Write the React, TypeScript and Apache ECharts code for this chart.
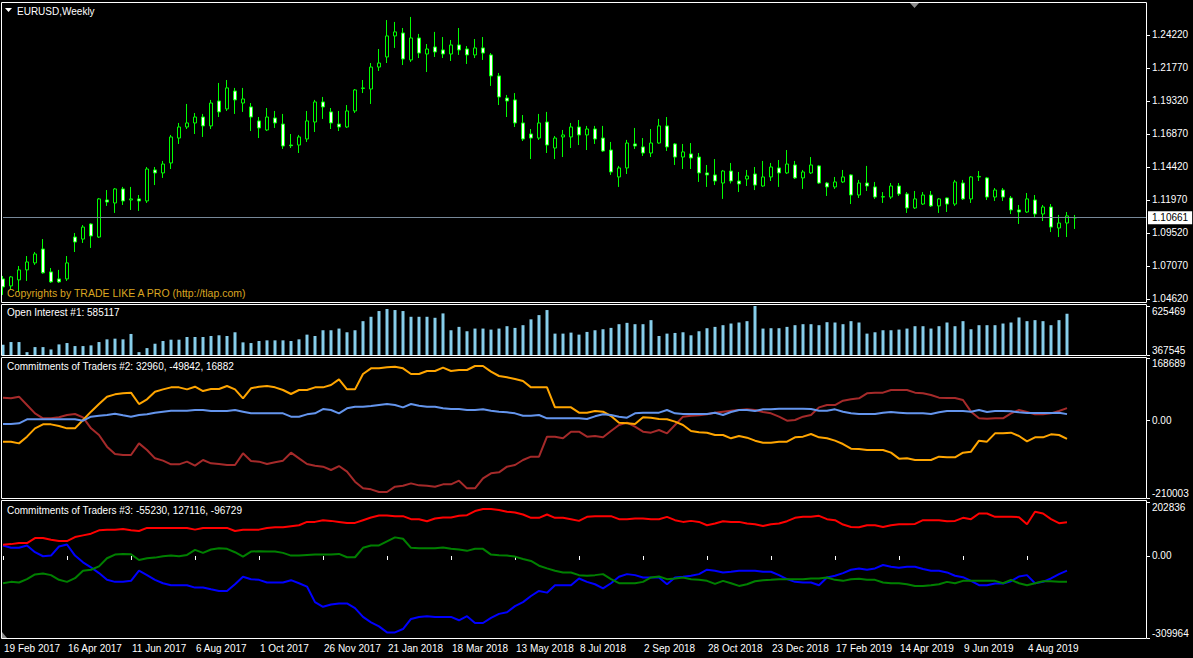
import React, { useEffect, useRef } from "react";
import * as echarts from "echarts";

// ---------- DATA ----------
const OPEN = [1.0611,1.0559,1.0604,1.0678,1.0730,1.0833,1.0663,1.0611,1.0611,1.0922,
 1.0907,1.1019,1.0922,1.1197,1.1175,1.1279,1.1197,1.1205,1.1190,1.1420,
 1.1398,1.1472,1.1657,1.1739,1.1769,1.1813,1.1747,1.1932,1.1873,1.2006,
 1.1917,1.1888,1.1784,1.1717,1.1806,1.1761,1.1605,1.1605,1.1650,1.1776,
 1.1925,1.1851,1.1761,1.1739,1.1858,1.2025,1.2021,1.2184,1.2259,1.2415,
 1.2437,1.2237,1.2400,1.2281,1.2333,1.2311,1.2281,1.2348,1.2318,1.2274,
 1.2326,1.2274,1.2118,1.1954,1.1940,1.1769,1.1687,1.1657,1.1776,1.1583,
 1.1665,1.1665,1.1739,1.1680,1.1724,1.1657,1.1568,1.1368,1.1435,1.1613,
 1.1591,1.1546,1.1620,1.1747,1.1613,1.1516,1.1539,1.1516,1.1398,1.1383,
 1.1323,1.1412,1.1338,1.1353,1.1390,1.1301,1.1368,1.1435,1.1398,1.1457,
 1.1361,1.1398,1.1450,1.1323,1.1294,1.1331,1.1383,1.1234,1.1323,1.1294,
 1.1219,1.1219,1.1301,1.1242,1.1138,1.1167,1.1234,1.1153,1.1212,1.1167,
 1.1323,1.1205,1.1368,1.1361,1.1219,1.1271,1.1212,1.1123,1.1108,1.1197,
 1.1093,1.1145,1.0989,1.1026,1.1064];

const CLOSE = [1.0552,1.0626,1.0678,1.0737,1.0796,1.0656,1.0589,1.0589,1.0730,1.0885,
 1.0996,1.0930,1.1205,1.1182,1.1279,1.1190,1.1205,1.1190,1.1427,1.1398,
 1.1464,1.1665,1.1739,1.1769,1.1813,1.1747,1.1917,1.1851,1.2029,1.1940,
 1.1947,1.1813,1.1732,1.1813,1.1769,1.1598,1.1600,1.1665,1.1784,1.1925,
 1.1888,1.1769,1.1739,1.1858,1.2014,1.2029,1.2184,1.2214,1.2415,1.2445,
 1.2244,1.2400,1.2288,1.2318,1.2296,1.2281,1.2348,1.2311,1.2274,1.2326,
 1.2288,1.2118,1.1962,1.1932,1.1769,1.1650,1.1657,1.1769,1.1605,1.1657,
 1.1680,1.1739,1.1680,1.1724,1.1650,1.1561,1.1405,1.1435,1.1620,1.1598,
 1.1546,1.1620,1.1747,1.1591,1.1516,1.1554,1.1509,1.1398,1.1383,1.1338,
 1.1412,1.1338,1.1316,1.1375,1.1308,1.1368,1.1442,1.1398,1.1464,1.1361,
 1.1405,1.1457,1.1323,1.1294,1.1331,1.1368,1.1234,1.1323,1.1301,1.1219,
 1.1222,1.1301,1.1242,1.1138,1.1205,1.1234,1.1153,1.1205,1.1167,1.1331,
 1.1205,1.1368,1.1372,1.1219,1.1271,1.1219,1.1123,1.1108,1.1205,1.1093,
 1.1145,1.0996,1.1026,1.1079,1.10661];

const LOW = [1.0492,1.0529,1.0514,1.0596,1.0715,1.0650,1.0581,1.0581,1.0596,1.0811,
 1.0878,1.0841,1.0915,1.1153,1.1101,1.1160,1.1123,1.1116,1.1175,1.1308,
 1.1361,1.1427,1.1613,1.1724,1.1687,1.1665,1.1724,1.1813,1.1858,1.1836,
 1.1851,1.1709,1.1657,1.1709,1.1732,1.1576,1.1583,1.1546,1.1628,1.1702,
 1.1799,1.1724,1.1709,1.1732,1.1843,1.1991,1.1910,1.2155,1.2214,1.2326,
 1.2199,1.2222,1.2251,1.2147,1.2259,1.2251,1.2229,1.2274,1.2207,1.2251,
 1.2237,1.2044,1.1902,1.1813,1.1739,1.1635,1.1501,1.1643,1.1546,1.1501,
 1.1516,1.1583,1.1605,1.1568,1.1613,1.1554,1.1383,1.1294,1.1390,1.1576,
 1.1524,1.1516,1.1615,1.1561,1.1457,1.1427,1.1427,1.1331,1.1294,1.1308,
 1.1205,1.1320,1.1256,1.1301,1.1271,1.1295,1.1338,1.1294,1.1390,1.1353,
 1.1279,1.1390,1.1316,1.1227,1.1279,1.1323,1.1167,1.1212,1.1264,1.1205,
 1.1175,1.1205,1.1227,1.1101,1.1130,1.1160,1.1145,1.1101,1.1108,1.1153,
 1.1197,1.1175,1.1338,1.1197,1.1190,1.1190,1.1093,1.1019,1.1101,1.1064,
 1.1041,1.0959,1.0922,1.0922,1.0982];

const HIGH = [1.0633,1.0633,1.0707,1.0781,1.0811,1.0907,1.0692,1.0678,1.0781,1.0952,
 1.1011,1.1025,1.1212,1.1271,1.1286,1.1294,1.1294,1.1234,1.1442,1.1442,
 1.1487,1.1680,1.1769,1.1910,1.1843,1.1836,1.1940,1.2066,1.2088,1.2029,
 1.2029,1.1917,1.1813,1.1880,1.1858,1.1836,1.1687,1.1680,1.1858,1.1940,
 1.1962,1.1880,1.1858,1.1902,1.2021,1.2088,1.2214,1.2318,1.2533,1.2519,
 1.2474,1.2556,1.2430,1.2355,1.2445,1.2407,1.2385,1.2474,1.2340,1.2392,
 1.2407,1.2288,1.2140,1.1977,1.1991,1.1828,1.1724,1.1836,1.1851,1.1672,
 1.1717,1.1769,1.1791,1.1747,1.1747,1.1747,1.1628,1.1450,1.1643,1.1732,
 1.1657,1.1724,1.1799,1.1813,1.1620,1.1613,1.1620,1.1546,1.1457,1.1501,
 1.1420,1.1472,1.1405,1.1420,1.1442,1.1487,1.1472,1.1494,1.1568,1.1487,
 1.1420,1.1516,1.1457,1.1331,1.1368,1.1420,1.1388,1.1346,1.1450,1.1331,
 1.1256,1.1323,1.1323,1.1256,1.1264,1.1256,1.1264,1.1212,1.1215,1.1346,
 1.1346,1.1375,1.1412,1.1368,1.1286,1.1286,1.1227,1.1160,1.1249,1.1234,
 1.1160,1.1167,1.1086,1.1108,1.1086];

const OPEN_INTEREST = [423700,437700,437700,385100,411400,411400,399100,425400,432500,416700,
 416700,420200,437700,451800,455300,451800,479800,385100,406100,428900,
 443000,450000,450000,464000,464000,464000,469300,472800,469300,488600,
 436000,432500,443000,446500,446500,446500,443000,451800,476300,469300,
 499100,499100,507900,488600,499100,546500,569300,599200,609700,604400,
 599200,569300,569300,569300,564100,586900,499100,516700,493900,507900,
 507900,502600,507900,520200,511400,525500,556000,578100,604400,481600,
 481600,486800,476300,490400,499100,504400,511400,530700,537700,530700,
 530700,551800,469300,481600,485100,488600,472800,493900,509700,516700,
 525500,534200,539500,546500,625469,507900,509700,509700,516700,525500,
 530700,530700,525500,541200,539500,530700,546500,539500,481600,488600,
 499100,499100,502600,507900,520200,520200,507900,520200,539500,520200,
 546500,504400,525500,525500,525500,534200,539500,565800,546500,551800,
 546500,525500,551800,585117];

const COT2_BROWN = [61400,59600,64100,41500,19000,5500,5500,8200,14500,17200,
 8200,-21600,-39600,-71200,-91000,-93700,-93700,-62200,-80200,-102700,
 -109000,-119000,-119000,-111700,-122600,-107200,-116300,-118100,-120800,-120800,
 -89200,-109900,-111700,-118100,-113500,-109000,-87400,-102700,-118100,-122600,
 -125300,-134300,-123500,-138800,-165800,-183900,-186600,-193800,-193800,-179400,
 -176700,-170400,-175800,-176700,-179400,-173100,-173100,-163100,-183900,-183900,
 -156800,-143300,-140600,-125300,-120800,-107200,-98200,-98200,-44100,-44100,
 -48600,-30600,-30600,-44100,-42300,-45900,-28800,-12600,-6200,-17100,
 -30600,-33300,-26100,-35100,-12600,10000,12700,13600,16300,20800,
 23500,26200,28000,29800,28000,22600,19000,10000,-800,1000,
 10000,14500,35200,41500,41500,53300,56900,59600,73100,74900,
 74900,82100,82100,82100,74900,73100,68600,61400,60500,60500,
 55100,23500,5500,4600,5500,5500,19000,28000,22600,16300,
 16300,19000,25300,32960];

const COT2_ORANGE = [-57600,-57600,-62200,-44100,-21600,-10800,-10800,-15300,-21600,-21600,
 1000,23500,44200,64100,70400,73100,74900,44200,56900,77600,
 83900,89300,89300,83900,91100,79400,84800,84800,92900,83900,
 59600,86600,91100,92900,89300,82100,71300,82100,82100,89300,
 89300,95600,111000,83900,83900,125400,140700,140700,143400,145200,
 140700,125400,125400,133500,133500,142500,133500,136200,136200,147000,
 147000,131700,120000,116400,111900,106500,89300,89300,89300,35200,
 35200,35200,20800,20800,25300,23500,11800,-6200,-8000,-9900,
 8200,7300,3700,2800,-3500,-12600,-28800,-32400,-33300,-39600,
 -39600,-48600,-42300,-46800,-54900,-60300,-60300,-57600,-57600,-45900,
 -44100,-36900,-45900,-48600,-54900,-64000,-76600,-77500,-80200,-80200,
 -80200,-87400,-103600,-102700,-107200,-107200,-107200,-98200,-100000,-100000,
 -87400,-84700,-54900,-57600,-35100,-35100,-33300,-42300,-56700,-45900,
 -45900,-37800,-39600,-49842];

const COT2_BLUE = [-9900,-9900,-8000,2800,2800,2800,2800,2800,2800,2800,
 -800,10000,12700,14500,18100,13600,10000,14500,16300,20800,
 23500,26200,26200,26200,28000,28000,25300,25300,25300,28000,
 23500,19000,19000,19000,19000,19000,10000,10000,16300,19000,
 30700,28000,19000,32500,37000,37000,38800,41500,44200,41500,
 35200,44200,39700,37000,37000,32500,30700,30700,28000,28000,
 29800,26200,23500,21700,19000,12700,12700,14500,5500,5500,
 5500,5500,5500,3700,10900,16300,14500,10000,7300,19000,
 20800,20800,20800,28000,19000,17200,17200,17200,17200,20800,
 14500,22600,28000,28000,25300,29800,29800,31600,31600,31600,
 31600,30700,26200,26200,29800,23500,19000,17200,17200,17200,
 20800,22600,20800,19000,19000,19000,17200,21700,25300,25300,
 25300,23500,28000,22600,25300,25300,24400,21700,19900,19900,
 19900,19900,20800,16882];

const COT3_BLUE = [39500,30700,30700,39500,14200,-1000,1500,35700,43300,1500,
 -23800,-42800,-64300,-89600,-97200,-97200,-93400,-55400,-71900,-89600,
 -102300,-109900,-109900,-109900,-118700,-118700,-125100,-131400,-131400,-106100,
 -78200,-87100,-89600,-99700,-99700,-99700,-90900,-102300,-114900,-173200,
 -190900,-182000,-178200,-178200,-196000,-228900,-249100,-264300,-287100,-287100,
 -274400,-236500,-228900,-226300,-228900,-228900,-228900,-241500,-226300,-251700,
 -251700,-232700,-217500,-211100,-188400,-173200,-150400,-131400,-137700,-109900,
 -109900,-109900,-84500,-97200,-106100,-121300,-102300,-78200,-68100,-71900,
 -80700,-80700,-80700,-106100,-80700,-78200,-74400,-68100,-51600,-55400,
 -61800,-59200,-55400,-55400,-55400,-59200,-59200,-71900,-87100,-97200,
 -99700,-99700,-109900,-80700,-74400,-64300,-51600,-46600,-51600,-46600,
 -33900,-40200,-44000,-40200,-40200,-49100,-55400,-55400,-61800,-74400,
 -79500,-93400,-109900,-109900,-103500,-103500,-94700,-77000,-71900,-102300,
 -97200,-84500,-68100,-55230];

const COT3_RED = [42100,44600,48400,48400,67400,67400,61000,56000,56000,71200,
 77500,83800,96500,99000,99000,101600,96500,94000,105400,105400,
 105400,105400,105400,105400,99000,105400,105400,105400,105400,94000,
 99000,99000,99000,105400,107900,107900,111700,115500,128100,128100,
 134500,131900,128100,124300,124300,134500,144600,152200,152200,149700,
 149700,138300,138300,130700,140800,144600,144600,150900,153500,168700,
 176300,176300,172500,166100,163600,156000,143300,143300,156000,143300,
 143300,138300,131900,147100,149700,149700,149700,138300,138300,140800,
 140800,138300,138300,147100,134500,128100,131900,128100,115500,121800,
 130700,128100,128100,121800,119300,113000,119300,121800,130700,143300,
 147100,147100,150900,138300,134500,118000,109200,107900,115500,115500,
 109200,115500,119300,119300,120500,134500,134500,134500,130700,131900,
 143300,138300,159800,159800,147100,147100,147100,145900,119300,166100,
 159800,138300,123100,127116];

const COT3_GREEN = [-102300,-97200,-99700,-87100,-69400,-65600,-71900,-89600,-97200,-83300,
 -55400,-51600,-39000,-8600,5300,7900,6600,-14900,-8600,-6100,
 -1000,1500,-1000,4100,23100,11700,24300,29400,26900,14200,
 -2300,16700,18000,16700,16700,11700,1500,1500,4100,5300,
 5300,5300,7900,-4800,-4800,30700,39500,39500,54700,69900,
 64800,30700,29400,29400,29400,31900,26900,24300,19300,26900,
 26900,5300,2800,1500,-2300,-11100,-18700,-36400,-46600,-55400,
 -61800,-61800,-71900,-74400,-71900,-68100,-87100,-102300,-102300,-102300,
 -97200,-80700,-77000,-87100,-84500,-80700,-87100,-89600,-93400,-104800,
 -93400,-102300,-112400,-106100,-94700,-90900,-89600,-87100,-87100,-87100,
 -87100,-84500,-84500,-80700,-89600,-93400,-87100,-85800,-89600,-89600,
 -99700,-102300,-102300,-106100,-112400,-112400,-109900,-106100,-97200,-102300,
 -93400,-93400,-93400,-93400,-93400,-102300,-89600,-102300,-109900,-102300,
 -94700,-94700,-97200,-96729];

const DATE_LABELS = ["19 Feb 2017","16 Apr 2017","11 Jun 2017","6 Aug 2017","1 Oct 2017",
 "26 Nov 2017","21 Jan 2018","18 Mar 2018","13 May 2018","8 Jul 2018","2 Sep 2018",
 "28 Oct 2018","23 Dec 2018","17 Feb 2019","14 Apr 2019","9 Jun 2019","4 Aug 2019"];

const PRICE_TICKS = [1.0462,1.0707,1.0952,1.1197,1.1442,1.1687,1.1932,1.2177,1.2422];
const PRICE_RANGE = [1.0436, 1.2667];
const OI_RANGE = [367545, 625469];
const COT2_RANGE = [-210003, 168689];
const COT3_RANGE = [-309964, 202836];
const LAST_PRICE = 1.10661;
const SLOT_COUNT = 144; // bars + empty chart-shift space
const LABEL_STEP = 8;

const CATEGORIES = Array.from({ length: SLOT_COUNT }, (_, i) => String(i));
const FONT = '"Liberation Sans", Arial, sans-serif';

export default function App() {
  const ref = useRef<HTMLDivElement>(null);

  useEffect(() => {
    if (!ref.current) return;
    const chart = echarts.init(ref.current, undefined, { renderer: "svg" });

    const grids = [
      { left: 3, top: 2, width: 1144, height: 300.5 },
      { left: 3, top: 306, width: 1144, height: 49.5 },
      { left: 3, top: 358, width: 1144, height: 140 },
      { left: 3, top: 502, width: 1144, height: 136.5 },
    ];

    const showDate = (index: number) =>
      index % LABEL_STEP === 0 && index / LABEL_STEP < DATE_LABELS.length;

    const xAxis = grids.map((_, k) => ({
      type: "category",
      gridIndex: k,
      data: CATEGORIES,
      boundaryGap: false,
      axisLine: { show: false },
      splitLine: { show: false },
      axisTick:
        k === 3
          ? { show: true, interval: showDate, length: 4, lineStyle: { color: "#ffffff", width: 1 } }
          : { show: false },
      axisLabel:
        k === 3
          ? {
              show: true,
              interval: showDate,
              formatter: (_v: string, idx: number) => DATE_LABELS[idx / LABEL_STEP] ?? "",
              align: "left",
              color: "#ffffff",
              fontFamily: FONT,
              fontSize: 10,
              margin: 5,
              padding: [0, 0, 0, 1],
            }
          : { show: false },
    }));

    const fmtInt = (v: number) => String(Math.round(v));
    const edgeAxis = (
      gridIndex: number,
      range: number[],
      value: number,
      vAlign: string,
      fmt: (v: number) => string
    ) => ({
      type: "value",
      gridIndex,
      position: "right",
      min: range[0],
      max: range[1],
      splitLine: { show: false },
      axisLine: { show: false },
      axisTick: { show: true, customValues: [value], length: 3, lineStyle: { color: "#ffffff" } },
      axisLabel: {
        show: true,
        customValues: [value],
        formatter: fmt,
        verticalAlign: vAlign,
        color: "#ffffff",
        fontFamily: FONT,
        fontSize: 10,
        margin: 5,
      },
    });

    const yAxis: any[] = [
      {
        type: "value",
        gridIndex: 0,
        position: "right",
        min: PRICE_RANGE[0],
        max: PRICE_RANGE[1],
        splitLine: { show: false },
        axisLine: { show: false },
        axisTick: { show: true, customValues: PRICE_TICKS, length: 3, lineStyle: { color: "#ffffff" } },
        axisLabel: {
          show: true,
          customValues: PRICE_TICKS,
          formatter: (v: number) => v.toFixed(5),
          color: "#ffffff",
          fontFamily: FONT,
          fontSize: 10,
          margin: 5,
        },
      },
      edgeAxis(1, OI_RANGE, OI_RANGE[1], "top", fmtInt),
      edgeAxis(1, OI_RANGE, OI_RANGE[0], "bottom", fmtInt),
      edgeAxis(2, COT2_RANGE, COT2_RANGE[1], "top", fmtInt),
      edgeAxis(2, COT2_RANGE, 0, "middle", () => "0.00"),
      edgeAxis(2, COT2_RANGE, COT2_RANGE[0], "bottom", fmtInt),
      edgeAxis(3, COT3_RANGE, COT3_RANGE[1], "top", fmtInt),
      edgeAxis(3, COT3_RANGE, 0, "middle", () => "0.00"),
      edgeAxis(3, COT3_RANGE, COT3_RANGE[0], "bottom", fmtInt),
    ];

    const candles = OPEN.map((o, i) => [o, CLOSE[i], LOW[i], HIGH[i]]);
    const lastIdx = OPEN_INTEREST.length - 1;

    const line = (x: number, y: number, data: number[], color: string) => ({
      type: "line",
      xAxisIndex: x,
      yAxisIndex: y,
      data,
      symbol: "none",
      silent: true,
      lineStyle: { color, width: 2 },
      itemStyle: { color },
    });

    const pane = (y: number, h: number) => ({
      type: "rect",
      silent: true,
      z: 50,
      shape: { x: 1.5, y, width: 1145, height: h },
      style: { fill: "none", stroke: "#ffffff", lineWidth: 1 },
    });
    const label = (text: string, x: number, y: number, fill = "#ffffff", size = 10) => ({
      type: "text",
      silent: true,
      z: 60,
      style: { text, x, y, fill, font: `${size}px ${FONT}`, verticalAlign: "middle", align: "left" },
    });

    chart.setOption({
      animation: false,
      backgroundColor: "#000000",
      grid: grids,
      xAxis,
      yAxis,
      series: [
        {
          type: "candlestick",
          xAxisIndex: 0,
          yAxisIndex: 0,
          data: candles,
          barWidth: 4,
          silent: true,
          itemStyle: {
            color: "#000000",
            color0: "#ffffff",
            borderColor: "#00ff00",
            borderColor0: "#00ff00",
            borderColorDoji: "#00ff00",
            borderWidth: 1,
          },
          markLine: {
            silent: true,
            symbol: "none",
            precision: 5,
            animation: false,
            lineStyle: { color: "#778899", width: 1, type: "solid" },
            label: {
              show: true,
              position: "end",
              distance: 1,
              formatter: () => LAST_PRICE.toFixed(5),
              color: "#000000",
              backgroundColor: "#ffffff",
              padding: [2, 4, 1, 4],
              fontFamily: FONT,
              fontSize: 10,
            },
            data: [{ yAxis: LAST_PRICE }],
          },
        },
        {
          type: "bar",
          xAxisIndex: 1,
          yAxisIndex: 1,
          data: OPEN_INTEREST,
          barWidth: 3,
          silent: true,
          itemStyle: { color: "#87CEEB" },
        },
        line(2, 3, COT2_BROWN, "#A52A2A"),
        line(2, 3, COT2_ORANGE, "#FFA500"),
        line(2, 3, COT2_BLUE, "#6495ED"),
        line(3, 6, COT3_BLUE, "#0000FF"),
        line(3, 6, COT3_RED, "#FF0000"),
        line(3, 6, COT3_GREEN, "#008000"),
      ],
      graphic: [
        pane(2.5, 300),
        pane(304.5, 51),
        pane(357.5, 141),
        pane(500.5, 138),
        {
          type: "polygon",
          silent: true,
          z: 60,
          shape: { points: [[5, 8], [12, 8], [8.5, 12]] },
          style: { fill: "#ffffff" },
        },
        {
          type: "polygon",
          silent: true,
          z: 60,
          shape: { points: [[910, 3], [919, 3], [914.5, 8]] },
          style: { fill: "#8c8c8c" },
        },
        {
          type: "polygon",
          silent: true,
          z: 60,
          shape: { points: [[2, 632], [2, 638], [7, 638]] },
          style: { fill: "#8c8c8c" },
        },
        label("EURUSD,Weekly", 17, 11),
        label("Copyrights by TRADE LIKE A PRO (http://tlap.com)", 7, 292.5, "#DAA520", 10.5),
        label(`Open Interest #1: ${OPEN_INTEREST[lastIdx]}`, 7, 312),
        label(
          `Commitments of Traders #2: ${COT2_BROWN[lastIdx]}, ${COT2_ORANGE[lastIdx]}, ${COT2_BLUE[lastIdx]}`,
          7,
          366.5
        ),
        label(
          `Commitments of Traders #3: ${COT3_BLUE[lastIdx]}, ${COT3_RED[lastIdx]}, ${COT3_GREEN[lastIdx]}`,
          7,
          510
        ),
      ],
    });

    return () => chart.dispose();
  }, []);

  return (
    <div
      ref={ref}
      style={{ position: "absolute", left: 0, top: 0, width: 1193, height: 658, background: "#000000" }}
    />
  );
}
